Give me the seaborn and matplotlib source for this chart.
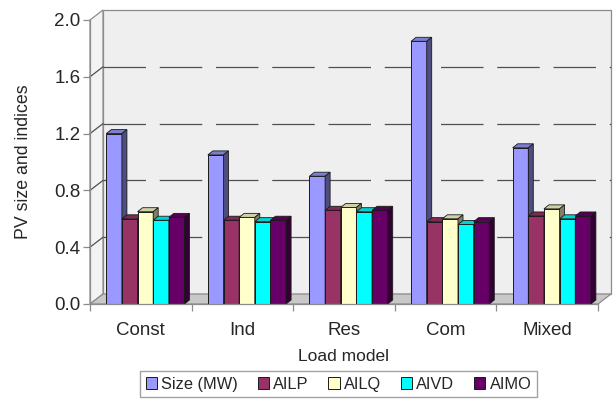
import numpy as np
import pandas as pd
import matplotlib
matplotlib.use("Agg")
import matplotlib.pyplot as plt
from matplotlib.patches import Polygon, Patch
import seaborn as sns

# ---- data -------------------------------------------------------------
load_models = ["Const", "Ind", "Res", "Com", "Mixed"]
series = ["Size (MW)", "AILP", "AILQ", "AIVD", "AIMO"]
size_mw = [1.20, 1.05, 0.90, 1.85, 1.10]
ailp = [0.60, 0.59, 0.66, 0.58, 0.62]
ailq = [0.65, 0.61, 0.68, 0.60, 0.67]
aivd = [0.59, 0.58, 0.65, 0.56, 0.60]
aimo = [0.61, 0.59, 0.66, 0.58, 0.62]
y_ticks = [0.0, 0.4, 0.8, 1.2, 1.6, 2.0]
colors = ["#9999FF", "#993366", "#FFFFCC", "#00FFFF", "#660066"]

df = pd.DataFrame({
    "Load model": load_models * 5,
    "series": np.repeat(series, len(load_models)),
    "value": size_mw + ailp + ailq + aivd + aimo,
})

sns.set_style("white")
plt.rcParams["font.family"] = ["Liberation Sans", "DejaVu Sans"]

W, H = 616, 399
fig = plt.figure(figsize=(W / 100, H / 100), dpi=100)
x0_px, x1_px, y0_px, y1_px = 90, 598, 304, 20
ax = fig.add_axes([x0_px / W, (H - y0_px) / H, (x1_px - x0_px) / W, (y0_px - y1_px) / H])
ax.set_xlim(-0.5, 4.5)
ax.set_ylim(0, 2.0)

px_x = 5.0 / (x1_px - x0_px)          # data units per pixel, horizontal
px_y = 2.0 / (y0_px - y1_px)          # data units per pixel, vertical

# depth of the chart box and of each column
wall_dx, wall_dy = 13 * px_x, 10 * px_y
bar_dx, bar_dy = 5 * px_x, 4 * px_y

# ---- walls and floor ---------------------------------------------------
back = Polygon([(-0.5 + wall_dx, wall_dy), (4.5 + wall_dx, wall_dy),
                (4.5 + wall_dx, 2.0 + wall_dy), (-0.5 + wall_dx, 2.0 + wall_dy)],
               closed=True, facecolor="#EFEFEF", edgecolor="#8C8C8C", lw=0.9,
               clip_on=False, zorder=0.5)
side = Polygon([(-0.5, 0), (-0.5, 2.0), (-0.5 + wall_dx, 2.0 + wall_dy),
                (-0.5 + wall_dx, wall_dy)],
               closed=True, facecolor="#F3F3F3", edgecolor="#8C8C8C", lw=0.9,
               clip_on=False, zorder=0.5)
floor = Polygon([(-0.5, 0), (4.5, 0), (4.5 + wall_dx, wall_dy), (-0.5 + wall_dx, wall_dy)],
                closed=True, facecolor="#C8C8C8", edgecolor="#8C8C8C", lw=0.9,
                clip_on=False, zorder=0.6)
for p in (back, side, floor):
    ax.add_patch(p)

for v in y_ticks[1:-1]:
    ax.plot([-0.5 + wall_dx, 4.5 + wall_dx], [v + wall_dy, v + wall_dy],
            color="#505050", lw=0.9, dashes=(34, 11), clip_on=False, zorder=0.7)
    ax.plot([-0.5, -0.5 + wall_dx], [v, v + wall_dy], color="#505050", lw=0.9,
            clip_on=False, zorder=0.7)

# ---- columns -----------------------------------------------------------
sns.barplot(data=df, x="Load model", y="value", hue="series", hue_order=series,
            order=load_models, palette=colors, width=0.77, saturation=1,
            edgecolor="#1A1A1A", linewidth=0.7, legend=False, ax=ax, zorder=2)

shift = 0.045
bars = [p for p in ax.patches if isinstance(p, matplotlib.patches.Rectangle)
        and p.get_height() > 0 and p.get_width() < 0.5]
bars.sort(key=lambda r: r.get_x())
for i, r in enumerate(bars):
    r.set_x(r.get_x() + shift)
    x0, w, h = r.get_x(), r.get_width(), r.get_height()
    x1 = x0 + w
    fc = np.array(matplotlib.colors.to_rgb(r.get_facecolor()))
    z = 2 + i * 0.01
    r.set_zorder(z)
    top = Polygon([(x0, h), (x1, h), (x1 + bar_dx, h + bar_dy), (x0 + bar_dx, h + bar_dy)],
                  closed=True, facecolor=fc * 0.82, edgecolor="#1A1A1A", lw=0.6, zorder=z)
    sidef = Polygon([(x1, 0), (x1, h), (x1 + bar_dx, h + bar_dy), (x1 + bar_dx, bar_dy)],
                    closed=True, facecolor=fc * 0.5, edgecolor="#1A1A1A", lw=0.6, zorder=z)
    ax.add_patch(top)
    ax.add_patch(sidef)

# ---- axes --------------------------------------------------------------
for s in ("top", "right"):
    ax.spines[s].set_visible(False)
for s in ("left", "bottom"):
    ax.spines[s].set_color("#8C8C8C")
    ax.spines[s].set_linewidth(0.9)
    ax.spines[s].set_zorder(3)

ax.set_yticks(y_ticks)
ax.set_yticklabels([f"{v:.1f}" for v in y_ticks], fontsize=13.5)
ax.set_xticks(np.arange(-0.5, 5.0, 1.0))
ax.set_xticklabels([])
ax.set_xticks(np.arange(5), minor=True)
ax.set_xticklabels(load_models, minor=True, fontsize=13.5)
ax.tick_params(axis="y", which="major", direction="out", length=5, width=0.9,
               color="#8C8C8C", pad=2, left=True)
ax.tick_params(axis="x", which="major", direction="out", length=5, width=0.9,
               color="#8C8C8C", bottom=True)
ax.tick_params(axis="x", which="minor", length=0, pad=13)

ax.set_xlabel("Load model", fontsize=12.5, labelpad=7)
ax.set_ylabel("PV size and indices", fontsize=12.8, labelpad=16)

handles = [Patch(facecolor=c, edgecolor="#1A1A1A", lw=0.7, label=s)
           for c, s in zip(colors, series)]
fig.legend(handles=handles, loc="upper center", ncol=5,
           bbox_to_anchor=(338.5 / W, 1 - 371 / H), fontsize=11.8,
           frameon=True, fancybox=False, edgecolor="#8C8C8C",
           handlelength=0.7, handleheight=0.7, handletextpad=0.25,
           columnspacing=1.2, borderpad=0.35, borderaxespad=0)

fig.savefig("out.png", dpi=100)
